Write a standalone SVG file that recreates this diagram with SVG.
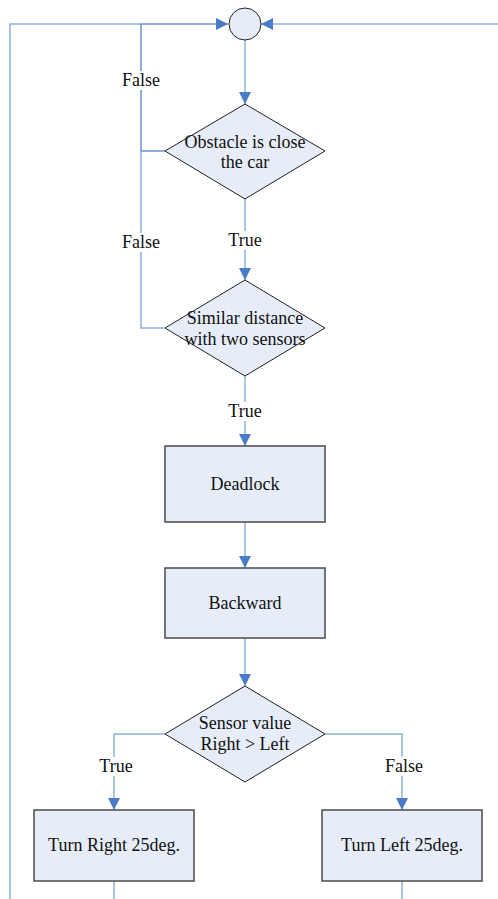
<svg xmlns="http://www.w3.org/2000/svg" width="498" height="899" viewBox="0 0 498 899">
<defs>
<style>
.shape{fill:#e6edf8;stroke:#222;stroke-width:1}
.box{fill:#e6edf8;stroke:#4a4a4a;stroke-width:1.5}
.ln{fill:none;stroke:#8fb0e0;stroke-width:1.5}
.dk{fill:none;stroke:#6a93d2;stroke-width:1.5}
text{font-family:"Liberation Serif","Times New Roman",serif;font-size:18px;fill:#111;text-anchor:middle}
.bg{fill:#fff}
</style>
<marker id="ah" viewBox="0 0 10 10" refX="10" refY="5" markerWidth="12" markerHeight="12" markerUnits="userSpaceOnUse" orient="auto">
<path d="M0,0 L10,5 L0,10 z" fill="#4a7cc9"/>
</marker>
</defs>
<g id="connectors">
<path class="ln" d="M10,899 L10,24 L141,24"/>
<path class="dk" d="M141,24 L228,24" marker-end="url(#ah)"/>
<path class="ln" d="M498,24 L261,24" marker-end="url(#ah)"/>
<path class="dk" d="M165,151 L141,151 L141,24"/>
<path class="ln" d="M165,328 L141,328 L141,151"/>
<path class="ln" d="M245,40 L245,104" marker-end="url(#ah)"/>
<path class="ln" d="M245,199 L245,280" marker-end="url(#ah)"/>
<path class="ln" d="M245,376 L245,446" marker-end="url(#ah)"/>
<path class="ln" d="M245,522 L245,568" marker-end="url(#ah)"/>
<path class="ln" d="M245,638 L245,686" marker-end="url(#ah)"/>
<path class="ln" d="M165,734 L114,734 L114,810" marker-end="url(#ah)"/>
<path class="ln" d="M325,734 L402,734 L402,810" marker-end="url(#ah)"/>
<path class="ln" d="M114,881 L114,899"/>
<path class="ln" d="M402,881 L402,899"/>
<rect class="bg" x="120" y="71" width="42" height="19"/>
<text x="141" y="86">False</text>
<rect class="bg" x="120" y="233" width="42" height="19"/>
<text x="141" y="248">False</text>
<rect class="bg" x="227" y="231" width="36" height="19"/>
<text x="245" y="246">True</text>
<rect class="bg" x="227" y="402" width="36" height="19"/>
<text x="245" y="417">True</text>
<rect class="bg" x="98" y="757" width="36" height="19"/>
<text x="116" y="772">True</text>
<rect class="bg" x="383" y="757" width="42" height="19"/>
<text x="404" y="772">False</text>
</g>
<g id="start">
<circle class="shape" cx="245" cy="24" r="16"/>
</g>
<g id="obstacle">
<path class="shape" d="M245,104 L325,151 L245,199 L165,151 z"/>
<text x="245" y="148">Obstacle is close</text>
<text x="245" y="168">the car</text>
</g>
<g id="similar">
<path class="shape" d="M245,280 L325,328 L245,376 L165,328 z"/>
<text x="245" y="324">Similar distance</text>
<text x="245" y="345">with two sensors</text>
</g>
<g id="deadlock">
<rect class="box" x="165" y="446" width="160" height="76"/>
<text x="245" y="490">Deadlock</text>
</g>
<g id="backward">
<rect class="box" x="165" y="568" width="160" height="70"/>
<text x="245" y="609">Backward</text>
</g>
<g id="sensor">
<path class="shape" d="M245,686 L325,734 L245,782 L165,734 z"/>
<text x="245" y="729">Sensor value</text>
<text x="245" y="750">Right &gt; Left</text>
</g>
<g id="turnright">
<rect class="box" x="34" y="810" width="160" height="71"/>
<text x="114" y="851">Turn Right 25deg.</text>
</g>
<g id="turnleft">
<rect class="box" x="322" y="810" width="160" height="71"/>
<text x="402" y="851">Turn Left 25deg.</text>
</g>
</svg>
